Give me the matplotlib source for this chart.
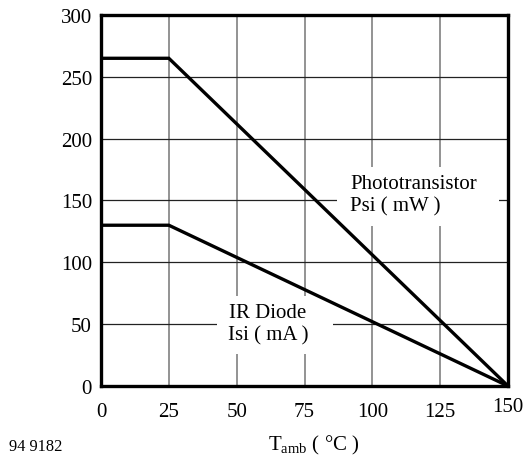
import matplotlib
matplotlib.use("Agg")
import matplotlib.pyplot as plt
from matplotlib.patches import Rectangle

plt.rcParams['font.family'] = ['Liberation Serif', 'DejaVu Serif']
plt.rcParams['mathtext.fontset'] = 'custom'
plt.rcParams['mathtext.rm'] = 'Liberation Serif'

temp = [0, 25, 150]
photo_psi = [265, 265, 0]
ir_isi = [130, 130, 0]
xticks = [0, 25, 50, 75, 100, 125, 150]
yticks = [0, 50, 100, 150, 200, 250, 300]

fig = plt.figure(figsize=(5.26, 4.6), dpi=100)
W, H = 526, 460
left, right, top, bottom = 101, 508, 16, 387
ax = fig.add_axes([left / W, 1 - bottom / H, (right - left) / W, (bottom - top) / H])
ax.set_xlim(0, 150)
ax.set_ylim(0, 300)

for x in xticks[1:-1]:
    ax.axvline(x, color='#808080', lw=1.2, zorder=1)
for y in yticks[1:-1]:
    ax.axhline(y, color='#222222', lw=0.9, zorder=1)

ax.plot(temp, photo_psi, color='black', lw=2.4, zorder=3, solid_joinstyle='miter')
ax.plot(temp, ir_isi, color='black', lw=2.4, zorder=3, solid_joinstyle='miter')

for s in ax.spines.values():
    s.set_linewidth(2.4)
ax.tick_params(length=0, labelsize=15)
ax.tick_params(axis='y', pad=6.5)
ax.tick_params(axis='x', pad=11.5)
ax.set_xticks(xticks)
ax.set_yticks(yticks)
ax.set_xticklabels([str(v) for v in xticks])
ax.set_yticklabels([str(v) for v in yticks])
for lab in ax.get_xticklabels():
    if lab.get_text() == '150':
        lab.set_y(0.013)

# white label boxes
ax.add_patch(Rectangle((87, 129.4), 59.7, 47.7, facecolor='white', edgecolor='none', zorder=2))
ax.add_patch(Rectangle((42.7, 25.9), 42.8, 46.9, facecolor='white', edgecolor='none', zorder=2))

ax.text(91.8, 154.5, 'Phototransistor\nPsi ( mW )', fontsize=15, ha='left', va='center',
        linespacing=1.25, zorder=4)
ax.text(61.5, 50.5, 'IR Diode\nIsi ( mA )', fontsize=15, ha='center', va='center',
        linespacing=1.25, zorder=4, multialignment='center')

fig.text(314 / W, 1 - 445 / H, r'T$_{\mathrm{amb}}$ ( °C )', fontsize=15, ha='center', va='center')
fig.text(9 / W, 1 - 447 / H, '94 9182', fontsize=11.8, ha='left', va='center')

fig.savefig('out.png', dpi=100)
